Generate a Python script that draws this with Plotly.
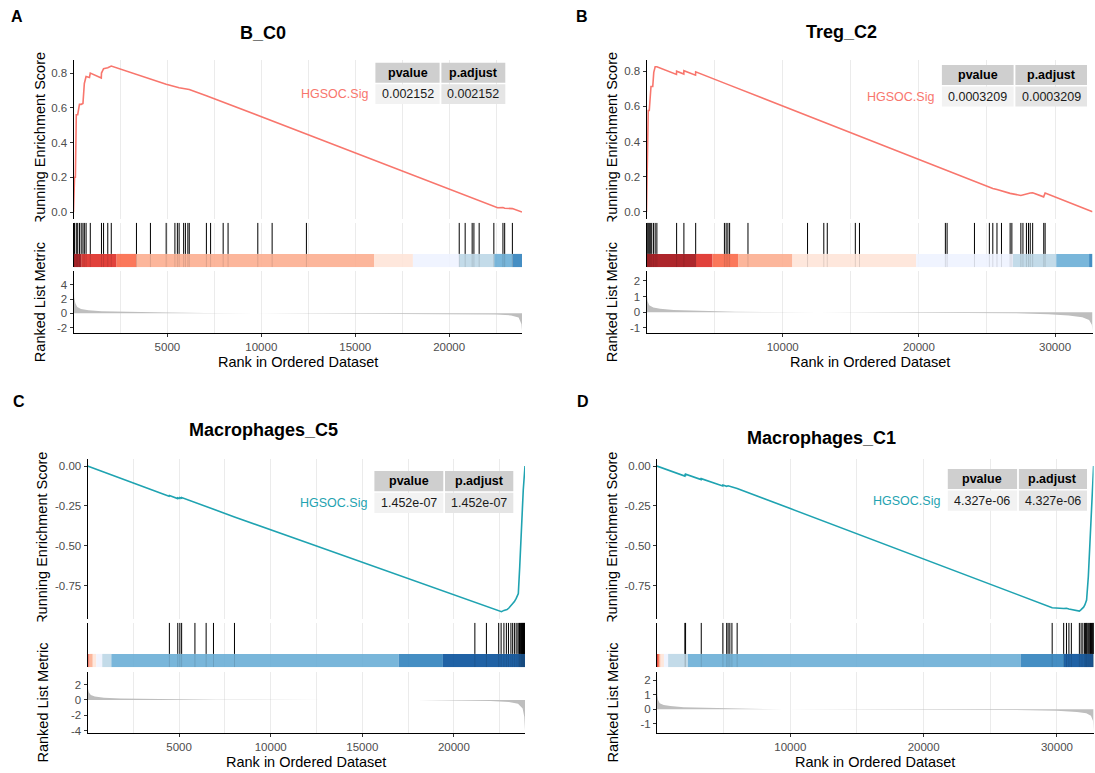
import plotly.graph_objects as go

W, H = 1095, 773
FONT = "Liberation Sans, Arial, Helvetica, sans-serif"

# ------------------------------------------------------------------ data
titles = ["B_C0", "Treg_C2", "Macrophages_C5", "Macrophages_C1"]
letters = ["A", "B", "C", "D"]
gene_set = "HGSOC.Sig"
table_header = ["pvalue", "p.adjust"]
pvalues = ["0.002152", "0.0003209", "1.452e-07", "4.327e-06"]
padjust = ["0.002152", "0.0003209", "1.452e-07", "4.327e-06"]
n_genes = [23880, 32750, 23880, 32750]

# running enrichment score (rank, score)
es_rank_A = [0, 56, 100, 149, 223, 317, 410, 503, 577, 670, 850, 894, 1480, 1490, 1601, 1825, 2011, 3352,
             4096, 4934, 5623, 6163, 7076, 8230, 9813, 10576, 12401, 15000, 18000, 20538, 21227, 21599,
             22381, 22580, 22865, 22958, 23368, 23880]
es_A = [0.0, 0.20, 0.20, 0.56, 0.56, 0.62, 0.62, 0.625, 0.74, 0.78, 0.775, 0.80, 0.772, 0.80, 0.825, 0.83,
        0.84, 0.79, 0.765, 0.735, 0.715, 0.705, 0.670, 0.622, 0.556, 0.524, 0.448, 0.340, 0.215, 0.110,
        0.081, 0.066, 0.033, 0.025, 0.026, 0.022, 0.020, 0.0]

es_rank_B = [0, 51, 127, 203, 254, 330, 458, 534, 636, 763, 2200, 2212, 2740, 2746, 3600, 3611, 6000, 10000,
             15000, 20000, 24794, 25176, 25430, 25735, 26066, 26702, 27490, 27643, 27897, 28050, 28178,
             28356, 29160, 29271, 32750]
es_B = [0.0, 0.40, 0.577, 0.577, 0.652, 0.713, 0.713, 0.794, 0.826, 0.826, 0.782, 0.800, 0.784, 0.803,
        0.778, 0.797, 0.724, 0.602, 0.450, 0.297, 0.150, 0.138, 0.133, 0.127, 0.120, 0.105, 0.093, 0.097,
        0.100, 0.104, 0.107, 0.108, 0.085, 0.107, 0.0]

es_rank_C = [0, 4450, 4469, 4920, 4928, 5035, 5042, 5130, 5138, 5864, 6475, 6876, 8022, 12000, 16000, 20000,
             21144, 21774, 22405, 22597, 22729, 22900, 23000, 23111, 23207, 23302, 23400, 23516, 23593,
             23689, 23785, 23880]
es_C = [0.0, -0.190, -0.185, -0.204, -0.199, -0.203, -0.198, -0.202, -0.197, -0.229, -0.254, -0.271,
        -0.319, -0.481, -0.644, -0.807, -0.853, -0.880, -0.905, -0.913, -0.905, -0.900, -0.890, -0.875,
        -0.865, -0.850, -0.830, -0.800, -0.630, -0.338, -0.150, 0.0]

es_rank_D = [0, 2085, 2091, 2140, 2143, 3310, 3320, 4930, 4940, 5228, 5333, 5463, 5620, 6012, 10000, 15000,
             20000, 25000, 29643, 30506, 30715, 30898, 31081, 31400, 31682, 31813, 32000, 32094, 32224,
             32354, 32485, 32615, 32750]
es_D = [0.0, -0.063, -0.057, -0.058, -0.051, -0.085, -0.079, -0.125, -0.119, -0.127, -0.124, -0.127,
        -0.130, -0.141, -0.267, -0.425, -0.583, -0.741, -0.888, -0.893, -0.892, -0.896, -0.899, -0.909,
        -0.909, -0.900, -0.885, -0.871, -0.840, -0.694, -0.464, -0.213, 0.0]

# gene-set hit positions
hits_A = [56, 149, 223, 317, 410, 503, 577, 670, 894, 1490, 1601, 1825, 2011, 3352, 4096, 4934, 5400, 5530,
          5623, 5865, 5958, 6089, 6163, 7076, 7299, 7969, 8230, 9813, 10576, 12401, 20538, 20854, 21227,
          21320, 21599, 22381, 22865, 22958, 23368]
hits_B = [51, 127, 203, 280, 381, 509, 636, 763, 2212, 2746, 3611, 5722, 5849, 5976, 6103, 7451, 11825,
          13020, 13274, 15334, 15639, 21946, 22073, 24082, 25176, 25430, 25735, 26066, 26702, 26829, 27490,
          27643, 27897, 28050, 28178, 28356, 29170, 29271]
hits_C = [4469, 4928, 5042, 5138, 5864, 6475, 6876, 8022, 21144, 21774, 22443, 22576, 22729, 22863, 22977,
          23111, 23207, 23302, 23398, 23493, 23550, 23580, 23627, 23660, 23684, 23720, 23741, 23770, 23799,
          23820, 23850, 23870]
hits_D = [2091, 2143, 3320, 4940, 5228, 5333, 5463, 5620, 6012, 29643, 30506, 30715, 30898, 31081, 31682,
          31813, 31944, 32074, 32150, 32205, 32260, 32335, 32400, 32466, 32520, 32597, 32650, 32700, 32727,
          32745]

# colour-bar segments (edges in rank units)
bar_edges_A = [0, 410, 2296, 3360, 16018, 18072, 20536, 22404, 23375, 23880]
bar_colors_A = ["#A50F15", "#DE2D26", "#FB6A4A", "#FCAE91", "#FEE5D9", "#EFF3FF", "#BDD7E7", "#6BAED6", "#3182BD"]
bar_edges_B = [0, 3631, 4850, 6754, 10715, 19804, 26913, 30087, 32499, 32750]
bar_colors_B = ["#A50F15", "#DE2D26", "#FB6A4A", "#FCAE91", "#FEE5D9", "#EFF3FF", "#BDD7E7", "#6BAED6", "#3182BD"]
bar_edges_C = [0, 60, 115, 287, 479, 804, 1302, 16986, 19399, 23880]
bar_colors_C = ["#DE2D26", "#FB6A4A", "#FCAE91", "#FEE5D9", "#EFF3FF", "#BDD7E7", "#6BAED6", "#3182BD", "#08519C"]
bar_edges_D = [0, 70, 150, 270, 521, 834, 2318, 27274, 30531, 32750]
bar_colors_D = ["#DE2D26", "#FB6A4A", "#FCAE91", "#FEE5D9", "#EFF3FF", "#BDD7E7", "#6BAED6", "#3182BD", "#08519C"]

# ranked list metric (rank, value)
metric_rank_A = [0, 15, 40, 100, 200, 400, 800, 1500, 3000, 5000, 7000, 9000, 12000, 15000, 18000, 20800,
                 22500, 23300, 23700, 23850, 23880]
metric_A = [5.55, 3.5, 2.2, 1.4, 0.9, 0.6, 0.42, 0.3, 0.18, 0.1, 0.05, 0.02, 0.0, -0.01, -0.02, -0.05,
            -0.15, -0.3, -0.6, -1.5, -2.4]
metric_rank_B = [0, 10, 30, 80, 200, 500, 1000, 2000, 3500, 5000, 6500, 9000, 14000, 20000, 24000, 27000,
                 29500, 31000, 32000, 32500, 32700, 32750]
metric_B = [2.45, 1.6, 1.1, 0.7, 0.45, 0.3, 0.22, 0.15, 0.1, 0.06, 0.03, 0.01, 0.0, -0.01, -0.03, -0.06,
            -0.12, -0.2, -0.32, -0.5, -0.8, -1.16]
metric_rank_C = [0, 8, 25, 70, 180, 400, 900, 1800, 3000, 5000, 7000, 9000, 13000, 18000, 20500, 22000,
                 23000, 23500, 23750, 23840, 23880]
metric_C = [3.3, 2.2, 1.5, 1.0, 0.65, 0.45, 0.3, 0.2, 0.14, 0.08, 0.04, 0.01, 0.0, -0.02, -0.06, -0.14,
            -0.28, -0.5, -1.1, -2.2, -3.97]
metric_rank_D = [0, 10, 30, 80, 200, 500, 1000, 2000, 3500, 5000, 7000, 9500, 14000, 20000, 25000, 28000,
                 30000, 31500, 32200, 32550, 32700, 32750]
metric_D = [2.41, 1.5, 1.0, 0.65, 0.42, 0.3, 0.22, 0.15, 0.11, 0.07, 0.035, 0.01, 0.0, -0.01, -0.03, -0.06,
            -0.1, -0.18, -0.28, -0.45, -0.8, -1.47]

# axis ticks
x_major_AC = [5000, 10000, 15000, 20000]
x_minor_AC = [2500, 7500, 12500, 17500, 22500]
x_major_BD = [10000, 20000, 30000]
x_minor_BD = [5000, 15000, 25000]
es_ticks_AB = [0.0, 0.2, 0.4, 0.6, 0.8]
es_labels_AB = ["0.0", "0.2", "0.4", "0.6", "0.8"]
es_ticks_CD = [0.0, -0.25, -0.5, -0.75]
es_labels_CD = ["0.00", "-0.25", "-0.50", "-0.75"]
metric_ticks = [[-2, 0, 2, 4], [-1, 0, 1, 2], [-4, -2, 0, 2], [-1, 0, 1, 2]]

panels = [
    dict(es_r=es_rank_A, es=es_A, hits=hits_A, edges=bar_edges_A, cols=bar_colors_A,
         mr=metric_rank_A, m=metric_A, xmaj=x_major_AC, xmin=x_minor_AC, est=es_ticks_AB, esl=es_labels_AB),
    dict(es_r=es_rank_B, es=es_B, hits=hits_B, edges=bar_edges_B, cols=bar_colors_B,
         mr=metric_rank_B, m=metric_B, xmaj=x_major_BD, xmin=x_minor_BD, est=es_ticks_AB, esl=es_labels_AB),
    dict(es_r=es_rank_C, es=es_C, hits=hits_C, edges=bar_edges_C, cols=bar_colors_C,
         mr=metric_rank_C, m=metric_C, xmaj=x_major_AC, xmin=x_minor_AC, est=es_ticks_CD, esl=es_labels_CD),
    dict(es_r=es_rank_D, es=es_D, hits=hits_D, edges=bar_edges_D, cols=bar_colors_D,
         mr=metric_rank_D, m=metric_D, xmaj=x_major_BD, xmin=x_minor_BD, est=es_ticks_CD, esl=es_labels_CD),
]

# ------------------------------------------------------------------ geometry / style
curve_colors = ["#F8766D", "#F8766D", "#1FA3B1", "#1FA3B1"]
x_px = [(73.5, 522.0), (646.5, 1092.5), (87.5, 525.0), (657.0, 1093.6)]
rows = [dict(es=(59.5, 219.0), hit=(222.7, 267.3), rk=(271.0, 333.3)),
        dict(es=(458.7, 619.0), hit=(622.7, 667.3), rk=(671.7, 733.3))]
es_range = [(-0.04, 0.878), (-0.041, 0.867), (-0.959, 0.046), (-0.959, 0.046)]
rk_range = [(-2.81, 5.95), (-1.34, 2.63), (-4.35, 3.69), (-1.66, 2.60)]
title_pos = [(263, 33), (841, 32), (263, 430), (821, 438)]
letter_pos = [(17, 17), (582, 16.5), (19, 401.5), (583, 401.5)]
ylab_x = [40, 612, 42, 612]
table_x = [(375.4, 439.6, 441.4, 505.3), (941.9, 1013.6, 1015.4, 1087.0),
           (374.4, 443.3, 445.0, 513.3), (947.8, 1017.1, 1018.9, 1087.0)]
table_y = [(62.7, 82.7, 84.3, 104.0), (65.0, 85.0, 86.6, 106.6),
           (471.0, 491.2, 492.8, 513.0), (469.0, 489.0, 490.6, 510.7)]

GRID = "#EBEBEB"
TICKFONT = dict(family=FONT, size=11.5, color="#4D4D4D")


def fx(x):
    return x / W


def fy(y):
    return 1 - y / H


fig = go.Figure()
layout = dict(width=W, height=H, margin=dict(l=0, r=0, t=0, b=0), autosize=False,
              paper_bgcolor="white", plot_bgcolor="white", showlegend=False,
              font=dict(family=FONT, color="black"), template="none")
annotations = []
shapes = []


def axname(kind, i):
    return kind if i == 1 else f"{kind}{i}"


for p, d in enumerate(panels):
    N = n_genes[p]
    row = rows[p // 2]
    x0, x1 = x_px[p]
    i_es, i_hit, i_rk = 3 * p + 1, 3 * p + 2, 3 * p + 3

    base_x = dict(domain=[fx(x0), fx(x1)], range=[0, N], showgrid=True, gridcolor=GRID, gridwidth=1,
                  tickmode="array", tickvals=d["xmaj"], ticktext=[str(v) for v in d["xmaj"]],
                  minor=dict(tickmode="array", tickvals=d["xmin"], showgrid=True, gridcolor=GRID,
                             gridwidth=1, ticks=""),
                  zeroline=False, fixedrange=True)
    for i, key in ((i_es, "es"), (i_hit, "hit"), (i_rk, "rk")):
        ax = dict(base_x)
        ax["anchor"] = axname("y", i)
        if key == "rk":
            ax.update(showticklabels=True, ticks="outside", ticklen=3, tickwidth=1, tickcolor="#333333",
                      tickfont=TICKFONT, showline=True, linecolor="black", linewidth=1)
        else:
            ax.update(showticklabels=False, ticks="", showline=False)
        layout["xaxis" if i == 1 else f"xaxis{i}"] = ax

    # y axes
    ya, yb = row["es"]
    layout[axname("yaxis", i_es)] = dict(
        domain=[fy(yb), fy(ya)], range=list(es_range[p]), anchor=axname("x", i_es),
        tickmode="array", tickvals=d["est"], ticktext=d["esl"], ticks="outside", ticklen=3, tickwidth=1,
        tickcolor="#333333", tickfont=TICKFONT, showline=True, linecolor="black", linewidth=1,
        showgrid=False, zeroline=False, fixedrange=True)
    ya, yb = row["hit"]
    layout[axname("yaxis", i_hit)] = dict(
        domain=[fy(yb), fy(ya)], range=[0, 1], anchor=axname("x", i_hit), showticklabels=False, ticks="",
        showline=True, linecolor="black", linewidth=1, showgrid=False, zeroline=False, fixedrange=True)
    ya, yb = row["rk"]
    mt = metric_ticks[p]
    layout[axname("yaxis", i_rk)] = dict(
        domain=[fy(yb), fy(ya)], range=list(rk_range[p]), anchor=axname("x", i_rk),
        tickmode="array", tickvals=mt, ticktext=[str(v) for v in mt], ticks="outside", ticklen=3,
        tickwidth=1, tickcolor="#333333", tickfont=TICKFONT, showline=True, linecolor="black",
        linewidth=1, showgrid=False, zeroline=False, fixedrange=True)

    xa_es, ya_es = axname("x", i_es), axname("y", i_es)
    xa_h, ya_h = axname("x", i_hit), axname("y", i_hit)
    xa_r, ya_r = axname("x", i_rk), axname("y", i_rk)

    # running enrichment score
    fig.add_trace(go.Scatter(x=d["es_r"], y=d["es"], mode="lines",
                             line=dict(color=curve_colors[p], width=1.6),
                             xaxis=xa_es, yaxis=ya_es, hoverinfo="skip"))

    # colour bar
    edges = d["edges"]
    centers = [(edges[k] + edges[k + 1]) / 2 for k in range(len(edges) - 1)]
    widths = [edges[k + 1] - edges[k] for k in range(len(edges) - 1)]
    fig.add_trace(go.Bar(x=centers, y=[0.3] * len(centers), base=0, width=widths,
                         marker=dict(color=d["cols"], line=dict(width=0)), opacity=0.9,
                         xaxis=xa_h, yaxis=ya_h, hoverinfo="skip"))

    # hit lines
    hx_top, hy_top, hx_bot, hy_bot = [], [], [], []
    for h in d["hits"]:
        hx_top += [h, h, None]
        hy_top += [0.3, 1, None]
        hx_bot += [h, h, None]
        hy_bot += [0, 0.3, None]
    fig.add_trace(go.Scatter(x=hx_top, y=hy_top, mode="lines", line=dict(color="black", width=1),
                             xaxis=xa_h, yaxis=ya_h, hoverinfo="skip"))
    fig.add_trace(go.Scatter(x=hx_bot, y=hy_bot, mode="lines",
                             line=dict(color="rgba(0,0,0,0.12)", width=1),
                             xaxis=xa_h, yaxis=ya_h, hoverinfo="skip"))

    # ranked list metric
    fig.add_trace(go.Scatter(x=d["mr"], y=d["m"], mode="lines", fill="tozeroy", fillcolor="#BEBEBE",
                             line=dict(width=0, color="#BEBEBE"), xaxis=xa_r, yaxis=ya_r,
                             hoverinfo="skip"))

    # title and panel letter
    tx, ty = title_pos[p]
    annotations.append(dict(text="<b>%s</b>" % titles[p], x=fx(tx), y=fy(ty), xref="paper", yref="paper",
                            showarrow=False, xanchor="center", yanchor="middle",
                            font=dict(family=FONT, size=18, color="black")))
    lx, ly = letter_pos[p]
    annotations.append(dict(text="<b>%s</b>" % letters[p], x=fx(lx), y=fy(ly), xref="paper", yref="paper",
                            showarrow=False, xanchor="center", yanchor="middle",
                            font=dict(family=FONT, size=16, color="black")))

    # p-value table
    c1a, c1b, c2a, c2b = table_x[p]
    h0, h1, r0, r1 = table_y[p]
    for (xa, xb), (y0, y1), col in (((c1a, c1b), (h0, h1), "#CFCFCF"), ((c2a, c2b), (h0, h1), "#CFCFCF"),
                                    ((c1a, c1b), (r0, r1), "#F2F2F2"), ((c2a, c2b), (r0, r1), "#E5E5E5")):
        shapes.append(dict(type="rect", xref="paper", yref="paper", x0=fx(xa), x1=fx(xb),
                           y0=fy(y1), y1=fy(y0), fillcolor=col, line=dict(width=0), layer="above"))
    for txt, cx in ((table_header[0], (c1a + c1b) / 2), (table_header[1], (c2a + c2b) / 2)):
        annotations.append(dict(text="<b>%s</b>" % txt, x=fx(cx), y=fy((h0 + h1) / 2), xref="paper",
                                yref="paper", showarrow=False, xanchor="center", yanchor="middle",
                                font=dict(family=FONT, size=12.5, color="black")))
    for txt, cx in ((pvalues[p], (c1a + c1b) / 2), (padjust[p], (c2a + c2b) / 2)):
        annotations.append(dict(text=txt, x=fx(cx), y=fy((r0 + r1) / 2), xref="paper", yref="paper",
                                showarrow=False, xanchor="center", yanchor="middle",
                                font=dict(family=FONT, size=12.5, color="#1A1A1A")))
    annotations.append(dict(text=gene_set, x=fx(c1a - 5.5), y=fy((r0 + r1) / 2), xref="paper", yref="paper",
                            showarrow=False, xanchor="right", yanchor="middle",
                            font=dict(family=FONT, size=12.5, color=curve_colors[p])))

    # x-axis title
    annotations.append(dict(text="Rank in Ordered Dataset", x=fx((x0 + x1) / 2),
                            y=fy(361.7 if p < 2 else 761.7), xref="paper", yref="paper", showarrow=False,
                            xanchor="center", yanchor="middle", font=dict(family=FONT, size=14.5, color="black")))

# y-axis titles (the ES title is clipped at the bottom by the panel below, as in the original)
for p in range(4):
    row = rows[p // 2]
    annotations.append(dict(text="Running Enrichment Score", x=fx(ylab_x[p]),
                            y=fy((row["es"][0] + row["es"][1]) / 2), xref="paper", yref="paper",
                            showarrow=False, textangle=-90, xanchor="center", yanchor="middle",
                            font=dict(family=FONT, size=14.5, color="black")))
for p in range(4):
    row = rows[p // 2]
    annotations.append(dict(text=" ", x=fx(ylab_x[p]), y=fy(row["es"][1] + 1.8), xref="paper", yref="paper",
                            showarrow=False, xanchor="center", yanchor="top", width=24, height=16,
                            bgcolor="white", borderpad=0, font=dict(size=4)))
for p in range(4):
    row = rows[p // 2]
    annotations.append(dict(text="Ranked List Metric", x=fx(ylab_x[p]),
                            y=fy((row["rk"][0] + row["rk"][1]) / 2), xref="paper", yref="paper",
                            showarrow=False, textangle=-90, xanchor="center", yanchor="middle",
                            font=dict(family=FONT, size=14.5, color="black")))

layout["annotations"] = annotations
layout["shapes"] = shapes
fig.update_layout(**layout)
fig.write_html("out.html",
               config={"displayModeBar": False, "staticPlot": True},
               post_script="document.body.style.margin='0px';document.body.style.padding='0px';"
                           "document.body.style.overflow='hidden';")
